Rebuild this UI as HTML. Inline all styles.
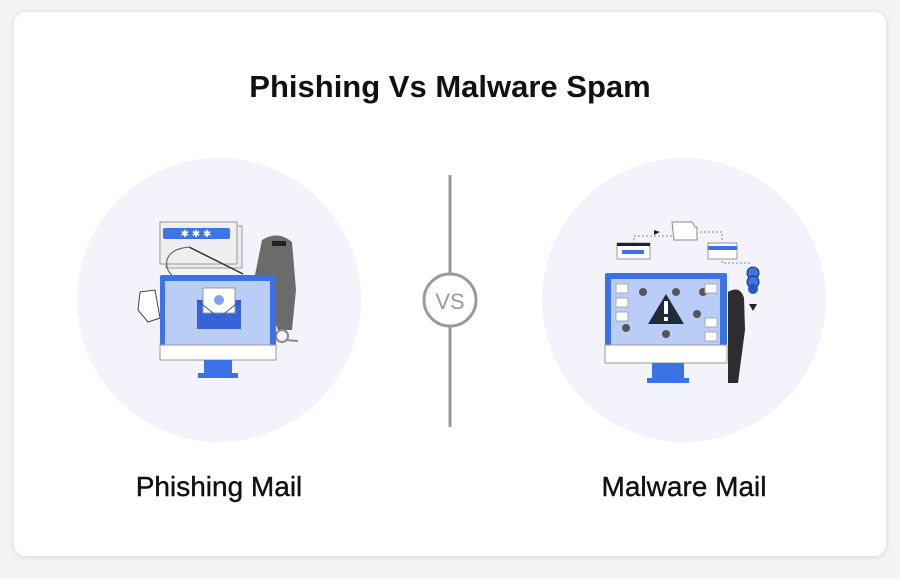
<!DOCTYPE html>
<html><head><meta charset="utf-8"><style>
body{margin:0;background:#f4f4f6;width:900px;height:574px;overflow:hidden;font-family:"Liberation Sans",sans-serif}
</style></head><body>
<svg width="900" height="574" viewBox="0 0 900 574" xmlns="http://www.w3.org/2000/svg">
<defs><filter id="sh" x="-5%" y="-5%" width="110%" height="110%"><feDropShadow dx="0" dy="1" stdDeviation="3" flood-color="#000" flood-opacity="0.12"/></filter></defs>
<rect x="14" y="12" width="872" height="544" rx="12" fill="#fff" filter="url(#sh)"/>
<text x="450" y="97" text-anchor="middle" font-size="31" font-weight="bold" fill="#111">Phishing Vs Malware Spam</text>
<circle cx="219" cy="300" r="142" fill="#f3f4fb"/>
<circle cx="684" cy="300" r="142" fill="#f3f4fb"/>
<line x1="450" y1="175" x2="450" y2="427" stroke="#9a9a9a" stroke-width="3"/>
<circle cx="450" cy="300" r="26" fill="#fff" stroke="#9a9a9a" stroke-width="3"/>
<text x="450" y="309" text-anchor="middle" font-size="22" fill="#9a9a9a">VS</text>
<!-- left illustration -->
<rect x="166" y="226" width="76" height="42" fill="#ececec" stroke="#999"/>
<rect x="160" y="222" width="77" height="42" fill="#efefef" stroke="#999"/>
<rect x="163" y="228" width="67" height="11" rx="2" fill="#3e74e8"/>
<text x="196" y="237" text-anchor="middle" font-size="10" fill="#fff">✱ ✱ ✱</text>
<line x1="189" y1="247" x2="243" y2="274" stroke="#333" stroke-width="1.5"/>
<path d="M189 247 C160 250 165 270 172 275" fill="none" stroke="#555"/>
<path d="M140 292 L155 290 L160 318 L148 322 L138 310Z" fill="#fff" stroke="#444"/>
<path d="M262 240 Q278 230 292 242 L296 290 L292 330 L278 330 L262 290 L255 275Z" fill="#6b6b6b"/>
<rect x="272" y="241" width="14" height="5" fill="#222"/>
<circle cx="282" cy="336" r="6" fill="none" stroke="#888" stroke-width="2"/>
<line x1="286" y1="340" x2="298" y2="341" stroke="#888" stroke-width="2"/>
<rect x="160" y="275" width="116" height="85" rx="2" fill="#3c72e6"/>
<rect x="165" y="281" width="105" height="64" fill="#b9cdf7"/>
<rect x="160" y="345" width="116" height="15" fill="#fff" stroke="#999"/>
<rect x="204" y="360" width="28" height="14" fill="#3c72e6"/>
<rect x="198" y="373" width="40" height="5" fill="#3c72e6"/>
<rect x="197" y="300" width="44" height="29" fill="#3763d8"/>
<rect x="203" y="288" width="32" height="25" fill="#fff" stroke="#999"/>
<circle cx="219" cy="300" r="5" fill="#7ea2f0"/>
<path d="M197 300 L219 318 L241 300" fill="none" stroke="#2b52c0"/>
<!-- right illustration -->
<path d="M634 244 V236 H677 M700 232 H722 V244 M722 257 V263 H752" fill="none" stroke="#888" stroke-dasharray="2 2"/>
<path d="M654 230 L660 232 L654 235Z" fill="#222"/>
<path d="M672 222 H692 L695 227 H697 V240 H674Z" fill="#fff" stroke="#888"/>
<rect x="617" y="243" width="33" height="16" fill="#fff" stroke="#999"/>
<rect x="617" y="243" width="33" height="3" fill="#222"/>
<rect x="622" y="250" width="22" height="4" fill="#3c72e6"/>
<rect x="708" y="243" width="29" height="16" fill="#fff" stroke="#999"/>
<rect x="708" y="246" width="29" height="4" fill="#3c72e6"/>
<circle cx="753" cy="273" r="6" fill="#3c72e6" stroke="#234"/>
<circle cx="753" cy="282" r="6" fill="#3c72e6" stroke="#234"/>
<circle cx="753" cy="289" r="5" fill="#2b52c0"/>
<path d="M749 304 H757 L753 311Z" fill="#222"/>
<rect x="605" y="273" width="122" height="90" rx="2" fill="#3c72e6"/>
<rect x="611" y="279" width="109" height="66" fill="#b9cdf7"/>
<rect x="605" y="345" width="122" height="18" fill="#fff" stroke="#999"/>
<rect x="652" y="363" width="32" height="16" fill="#3c72e6"/>
<rect x="647" y="378" width="42" height="5" fill="#3c72e6"/>
<path d="M666 294 L684 324 L648 324Z" fill="#1f2b3a"/>
<rect x="664" y="301" width="4" height="13" fill="#fff"/><rect x="664" y="317" width="4" height="4" fill="#fff"/>
<g fill="#555"><circle cx="643" cy="292" r="4"/><circle cx="676" cy="292" r="4"/><circle cx="703" cy="292" r="4"/><circle cx="697" cy="314" r="4"/><circle cx="626" cy="328" r="4"/><circle cx="666" cy="334" r="4"/></g>
<g fill="#fff" stroke="#aaa"><rect x="616" y="284" width="12" height="9"/><rect x="616" y="298" width="12" height="9"/><rect x="616" y="312" width="12" height="9"/><rect x="705" y="284" width="12" height="9"/><rect x="705" y="318" width="12" height="9"/><rect x="705" y="332" width="12" height="9"/></g>
<path d="M728 292 Q740 285 744 298 L745 330 L738 383 L728 383Z" fill="#2d2d2d"/>
<text x="219" y="496" text-anchor="middle" font-size="28" fill="#111" stroke="#111" stroke-width="0.4">Phishing Mail</text>
<text x="684" y="496" text-anchor="middle" font-size="28" fill="#111" stroke="#111" stroke-width="0.4">Malware Mail</text>
</svg>
</body></html>
